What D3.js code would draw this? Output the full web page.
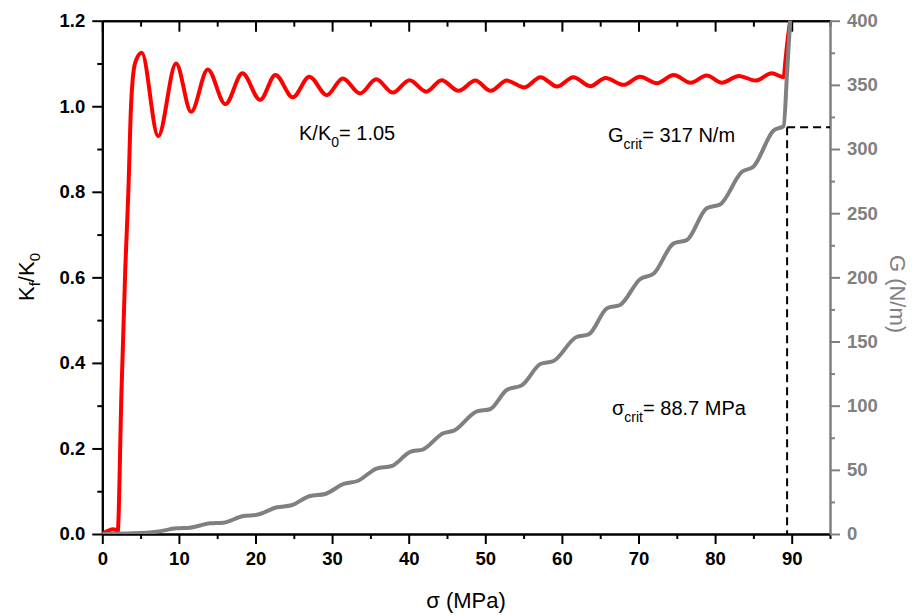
<!DOCTYPE html>
<html>
<head>
<meta charset="utf-8">
<script src="https://cdn.jsdelivr.net/npm/d3@7"></script>
<style>
  body { margin: 0; background: #fff; }
  svg text { font-family: "Liberation Sans", Arial, sans-serif; }
</style>
</head>
<body>
<svg id="chart" width="916" height="615"></svg>
<script>
// K_f/K_0 versus stress
var sigmaK = [0, 1.44, 1.88, 2.0, 2.5, 3.0, 3.4, 3.75, 4.27, 5.15, 7.3, 9.63, 11.6, 13.77,
  16.07, 18.3, 20.6, 22.6, 24.87, 27.04, 29.3, 31.4, 33.66, 35.75, 37.93, 40.1, 42.3, 44.3,
  46.5, 48.7, 50.7, 52.8, 55.1, 57.2, 59.4, 61.5, 63.7, 65.7, 68.05, 70.2, 72.4, 74.6,
  76.8, 78.9, 80.9, 83.1, 85.3, 87.4, 88.95, 89.2, 89.5, 89.8];
var kRatio = [0, 0.011, 0.008, 0.004, 0.33, 0.62, 0.80, 1.0, 1.10, 1.125, 0.930, 1.100, 0.987, 1.086,
  1.005, 1.077, 1.015, 1.073, 1.021, 1.069, 1.026, 1.065, 1.030, 1.063, 1.032, 1.061, 1.034, 1.061,
  1.036, 1.060, 1.036, 1.060, 1.044, 1.068, 1.046, 1.068, 1.047, 1.066, 1.050, 1.069, 1.054, 1.073,
  1.055, 1.072, 1.055, 1.071, 1.060, 1.077, 1.068, 1.11, 1.16, 1.2];

// G versus stress
var sigmaG = [0, 4.0, 7.1, 9.7, 11.45, 14.07, 15.8, 18.4, 20.2, 22.8, 24.7, 27.1, 29.1, 31.5,
  33.4, 35.8, 37.8, 40.2, 41.9, 44.5, 45.9, 48.9, 50.6, 52.8, 54.8, 57.2, 58.9, 61.9, 63.5,
  65.9, 67.6, 70.2, 72.0, 74.6, 76.3, 78.9, 80.7, 83.5, 85.0, 87.6, 88.95, 89.4, 89.8];
var gValues = [0, 0.5, 1.8, 4.4, 4.9, 8.3, 8.8, 14, 15, 20.8, 22.4, 29.6, 31.2, 39,
  41.5, 51, 53, 64, 66, 78.5, 80.5, 95.5, 97.2, 112.2, 116, 132.5, 134.8, 153.5, 155.5,
  175.9, 178.5, 198.5, 203, 226.5, 229, 253.8, 257, 282.3, 286.2, 314.3, 318, 360, 400];

var xTicks = [0, 10, 20, 30, 40, 50, 60, 70, 80, 90];
var yLeftTicks = [0, 0.2, 0.4, 0.6, 0.8, 1.0, 1.2];
var yRightTicks = [0, 50, 100, 150, 200, 250, 300, 350, 400];

var sigmaCrit = 89.4, gCrit = 317;

var svg = d3.select("#chart");
var pLeft = 102.3, pRight = 830, pTop = 20.7, pBottom = 534;

var x = d3.scaleLinear().domain([0, 95]).range([pLeft, pRight]);
var yL = d3.scaleLinear().domain([0, 1.2]).range([pBottom, pTop]);
var yR = d3.scaleLinear().domain([0, 400]).range([pBottom, pTop]);

svg.append("defs").append("clipPath").attr("id", "plot")
  .append("rect").attr("x", pLeft).attr("y", pTop - 1)
  .attr("width", pRight - pLeft).attr("height", pBottom - pTop + 1);

function styleAxis(g, color) {
  g.selectAll("path").attr("stroke", color).attr("stroke-width", 2);
  g.selectAll("line").attr("stroke", color).attr("stroke-width", 2);
  g.selectAll("text").attr("fill", color).attr("font-size", 18.5).attr("font-weight", "bold");
}

// minor ticks
var xMinor = d3.range(5, 96, 10);
svg.append("g").attr("transform", "translate(0," + pBottom + ")")
  .call(d3.axisBottom(x).tickValues(xMinor).tickSize(5).tickFormat("").tickSizeOuter(0))
  .call(styleAxis, "#000");
svg.append("g").attr("transform", "translate(0," + pTop + ")")
  .call(d3.axisBottom(x).tickValues(xMinor).tickSize(6).tickFormat("").tickSizeOuter(0))
  .call(styleAxis, "#000");
svg.append("g").attr("transform", "translate(" + pLeft + ",0)")
  .call(d3.axisLeft(yL).tickValues(d3.range(0.1, 1.2, 0.2)).tickSize(5).tickFormat("").tickSizeOuter(0))
  .call(styleAxis, "#000");
svg.append("g").attr("transform", "translate(" + pRight + ",0)")
  .call(d3.axisRight(yR).tickValues(d3.range(25, 400, 50)).tickSize(5).tickFormat("").tickSizeOuter(0))
  .call(styleAxis, "#808080");

// major axes
svg.append("g").attr("transform", "translate(0," + pTop + ")")
  .call(d3.axisBottom(x).tickValues(xTicks).tickSize(11).tickFormat("").tickSizeOuter(0))
  .call(styleAxis, "#000");
svg.append("g").attr("transform", "translate(0," + pBottom + ")")
  .call(d3.axisBottom(x).tickValues(xTicks).tickSize(10).tickPadding(8).tickSizeOuter(0))
  .call(styleAxis, "#000");
svg.append("g").attr("transform", "translate(" + pLeft + ",0)")
  .call(d3.axisLeft(yL).tickValues(yLeftTicks).tickSize(10).tickPadding(7)
    .tickFormat(d3.format(".1f")).tickSizeOuter(0))
  .call(styleAxis, "#000");
svg.append("g").attr("transform", "translate(" + pRight + ",0)")
  .call(d3.axisRight(yR).tickValues(yRightTicks).tickSize(10).tickPadding(7).tickSizeOuter(0))
  .call(styleAxis, "#808080");

// dashed critical lines
svg.append("line")
  .attr("x1", x(sigmaCrit)).attr("x2", x(sigmaCrit))
  .attr("y1", yR(gCrit)).attr("y2", yR(0))
  .attr("stroke", "#000").attr("stroke-width", 2).attr("stroke-dasharray", "8,5");
svg.append("line")
  .attr("x1", x(sigmaCrit)).attr("x2", x(95))
  .attr("y1", yR(gCrit)).attr("y2", yR(gCrit))
  .attr("stroke", "#000").attr("stroke-width", 2).attr("stroke-dasharray", "8,5");

var plot = svg.append("g").attr("clip-path", "url(#plot)");

var lineK = d3.line()
  .x(function (d, i) { return x(sigmaK[i]); })
  .y(function (d) { return yL(d); })
  .curve(d3.curveMonotoneX);
plot.append("path").datum(kRatio)
  .attr("d", lineK).attr("fill", "none")
  .attr("stroke", "#ff0000").attr("stroke-width", 4).attr("stroke-linejoin", "round");

var lineG = d3.line()
  .x(function (d, i) { return x(sigmaG[i]); })
  .y(function (d) { return yR(d); })
  .curve(d3.curveMonotoneX);
plot.append("path").datum(gValues)
  .attr("d", lineG).attr("fill", "none")
  .attr("stroke", "#808080").attr("stroke-width", 4).attr("stroke-linejoin", "round");

// annotations: main text, subscript, rest
function label(tx, ty, main, sub, rest) {
  var t = svg.append("text").attr("x", tx).attr("y", ty).attr("font-size", 20).attr("fill", "#000");
  t.append("tspan").text(main);
  t.append("tspan").text(sub).attr("font-size", 14).attr("dy", 7);
  t.append("tspan").text(rest).attr("dy", -7);
  return t;
}
label(299, 140, "K/K", "0", "= 1.05");
label(608, 142, "G", "crit", "= 317 N/m");
label(612, 415, "σ", "crit", "= 88.7 MPa");

// axis titles
svg.append("text").attr("x", 466).attr("y", 608).attr("text-anchor", "middle")
  .attr("font-size", 22).text("σ (MPa)");

var yt = svg.append("text").attr("transform", "translate(34,277) rotate(-90)")
  .attr("text-anchor", "middle").attr("font-size", 22);
yt.append("tspan").text("K");
yt.append("tspan").text("f").attr("font-size", 15).attr("dy", 6);
yt.append("tspan").text("/K").attr("dy", -6);
yt.append("tspan").text("0").attr("font-size", 15).attr("dy", 6);

svg.append("text").attr("transform", "translate(890,294) rotate(90)")
  .attr("text-anchor", "middle").attr("font-size", 22).attr("fill", "#808080")
  .text("G (N/m)");
</script>
</body>
</html>
